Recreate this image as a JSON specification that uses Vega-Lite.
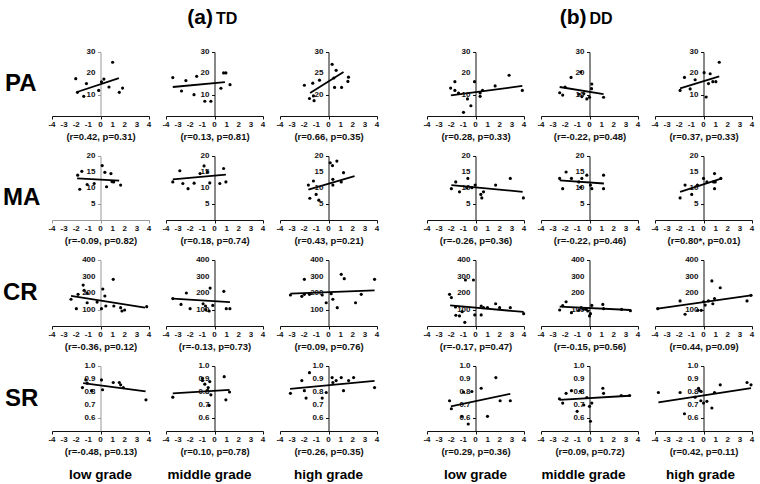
{
"$schema":"https://vega.github.io/schema/vega-lite/v6.json",
"padding":{"left":0,"top":0,"right":5,"bottom":5},
"background":"white",
"config":{"font":"Liberation Sans","view":{"stroke":null},
"text":{"fontSize":8,"fontWeight":"bold","color":"#111"},
"axis":{"grid":false,"labels":false,"domainColor":"#111","tickColor":"#111","tickSize":3,"titleFontSize":9.5,"titleFontWeight":"bold","titleColor":"#111","titlePadding":12}},
"datasets":{
"xt":[{"x":-4,"t":"-4"},{"x":-3,"t":"-3"},{"x":-2,"t":"-2"},{"x":-1,"t":"-1"},{"x":0,"t":"0"},{"x":1,"t":"1"},{"x":2,"t":"2"},{"x":3,"t":"3"},{"x":4,"t":"4"}],
"yt":[{"g":"PA","y":10,"t":"10"},{"g":"PA","y":20,"t":"20"},{"g":"PA","y":30,"t":"30"},
{"g":"PB","y":20,"t":"20"},{"g":"PB","y":25,"t":"25"},{"g":"PB","y":30,"t":"30"},
{"g":"MA","y":5,"t":"5"},{"g":"MA","y":10,"t":"10"},{"g":"MA","y":15,"t":"15"},{"g":"MA","y":20,"t":"20"},
{"g":"CR","y":100,"t":"100"},{"g":"CR","y":200,"t":"200"},{"g":"CR","y":300,"t":"300"},{"g":"CR","y":400,"t":"400"},
{"g":"SR","y":0.6,"t":"0.6"},{"g":"SR","y":0.7,"t":"0.7"},{"g":"SR","y":0.8,"t":"0.8"},{"g":"SR","y":0.9,"t":"0.9"},{"g":"SR","y":1.0,"t":"1.0"}],
"pts":[
{"p":"PA1","x":-2.04,"y":17.5},{"p":"PA1","x":-1.9,"y":11.1},{"p":"PA1","x":-1.38,"y":9.2},{"p":"PA1","x":-1.16,"y":15.2},{"p":"PA1","x":0.08,"y":16},{"p":"PA1","x":0.28,"y":17.3},{"p":"PA1","x":-0.15,"y":12},{"p":"PA1","x":1.0,"y":25.2},{"p":"PA1","x":0.7,"y":13.6},{"p":"PA1","x":1.55,"y":11.1},{"p":"PA1","x":1.82,"y":13.1},
{"p":"PA2","x":-3.44,"y":18},{"p":"PA2","x":-2.72,"y":11.7},{"p":"PA2","x":-2.36,"y":16.6},{"p":"PA2","x":-1.69,"y":10},{"p":"PA2","x":-1.47,"y":18.6},{"p":"PA2","x":-0.8,"y":6.9},{"p":"PA2","x":-0.3,"y":6.9},{"p":"PA2","x":0.75,"y":20.2},{"p":"PA2","x":0.94,"y":20.2},{"p":"PA2","x":0.53,"y":13},{"p":"PA2","x":1.28,"y":14.7},
{"p":"PA3","x":-1.99,"y":22.2},{"p":"PA3","x":-1.57,"y":19.1},{"p":"PA3","x":-1.24,"y":19.7},{"p":"PA3","x":-1.3,"y":22.7},{"p":"PA3","x":-1.19,"y":18.6},{"p":"PA3","x":-0.74,"y":23.4},{"p":"PA3","x":0.3,"y":27.1},{"p":"PA3","x":0.44,"y":23.9},{"p":"PA3","x":0.63,"y":25.7},{"p":"PA3","x":0.5,"y":21.7},{"p":"PA3","x":1.08,"y":21.7},{"p":"PA3","x":1.6,"y":23.1},{"p":"PA3","x":1.65,"y":24.1},
{"p":"PA4","x":-2.05,"y":13.1},{"p":"PA4","x":-1.7,"y":16.1},{"p":"PA4","x":-1.7,"y":12},{"p":"PA4","x":-1.4,"y":10.8},{"p":"PA4","x":-0.66,"y":8},{"p":"PA4","x":-0.38,"y":4.8},{"p":"PA4","x":-0.99,"y":1.7},{"p":"PA4","x":-0.08,"y":16.1},{"p":"PA4","x":0.38,"y":9.2},{"p":"PA4","x":0.38,"y":10.8},{"p":"PA4","x":0.58,"y":12},{"p":"PA4","x":1.62,"y":14.1},{"p":"PA4","x":2.77,"y":19.1},{"p":"PA4","x":3.86,"y":12},
{"p":"PA5","x":-2.46,"y":10.9},{"p":"PA5","x":-2.21,"y":9.8},{"p":"PA5","x":-2.01,"y":13.6},{"p":"PA5","x":-1.52,"y":18.1},{"p":"PA5","x":-0.72,"y":20.6},{"p":"PA5","x":-0.88,"y":10.2},{"p":"PA5","x":-0.63,"y":9.1},{"p":"PA5","x":-0.22,"y":8},{"p":"PA5","x":0,"y":8.8},{"p":"PA5","x":0.19,"y":15},{"p":"PA5","x":0.17,"y":12.8},{"p":"PA5","x":-0.47,"y":10.5},{"p":"PA5","x":1.16,"y":8.8},
{"p":"PA6","x":-1.93,"y":12},{"p":"PA6","x":-1.57,"y":18.1},{"p":"PA6","x":-1.1,"y":12.7},{"p":"PA6","x":-0.69,"y":17},{"p":"PA6","x":0.05,"y":20.3},{"p":"PA6","x":0.22,"y":8.9},{"p":"PA6","x":0.41,"y":15.2},{"p":"PA6","x":0.55,"y":19.8},{"p":"PA6","x":0.77,"y":16.1},{"p":"PA6","x":1.02,"y":16.1},{"p":"PA6","x":1.3,"y":25.2},
{"p":"MA1","x":-1.88,"y":14},{"p":"MA1","x":-1.54,"y":15.2},{"p":"MA1","x":-1.71,"y":9.6},{"p":"MA1","x":-1.1,"y":11.1},{"p":"MA1","x":-0.52,"y":11.4},{"p":"MA1","x":0.14,"y":17},{"p":"MA1","x":0.36,"y":14.9},{"p":"MA1","x":0.5,"y":10.4},{"p":"MA1","x":0.86,"y":14.5},{"p":"MA1","x":1.08,"y":11.9},{"p":"MA1","x":1.66,"y":10.9},{"p":"MA1","x":0.95,"y":12},
{"p":"MA2","x":-3.44,"y":11.9},{"p":"MA2","x":-2.86,"y":15.4},{"p":"MA2","x":-2.61,"y":11.4},{"p":"MA2","x":-2.18,"y":9.8},{"p":"MA2","x":-1.68,"y":11.5},{"p":"MA2","x":-1.19,"y":14.5},{"p":"MA2","x":-0.86,"y":16.9},{"p":"MA2","x":-0.58,"y":15},{"p":"MA2","x":-0.39,"y":11.6},{"p":"MA2","x":0.44,"y":11.4},{"p":"MA2","x":0.75,"y":16.1},{"p":"MA2","x":0.94,"y":11.9},
{"p":"MA3","x":-1.66,"y":10.9},{"p":"MA3","x":-1.54,"y":6.8},{"p":"MA3","x":-1.24,"y":12.2},{"p":"MA3","x":-1.02,"y":8},{"p":"MA3","x":-0.8,"y":6.2},{"p":"MA3","x":0.14,"y":17.9},{"p":"MA3","x":0.33,"y":17},{"p":"MA3","x":0.69,"y":18.4},{"p":"MA3","x":0.36,"y":12.7},{"p":"MA3","x":0.36,"y":10.9},{"p":"MA3","x":1.05,"y":11.9},{"p":"MA3","x":1.24,"y":14.8},
{"p":"MA4","x":-1.99,"y":9.8},{"p":"MA4","x":-1.63,"y":11.9},{"p":"MA4","x":-1.32,"y":8.8},{"p":"MA4","x":-0.72,"y":10.1},{"p":"MA4","x":-0.63,"y":13},{"p":"MA4","x":-0.3,"y":10.1},{"p":"MA4","x":-0.03,"y":10.9},{"p":"MA4","x":0.44,"y":8},{"p":"MA4","x":0.52,"y":6.9},{"p":"MA4","x":0.66,"y":8.8},{"p":"MA4","x":1.66,"y":10.9},{"p":"MA4","x":2.87,"y":13},{"p":"MA4","x":3.95,"y":6.9},
{"p":"MA5","x":-2.46,"y":13},{"p":"MA5","x":-2.21,"y":9.8},{"p":"MA5","x":-1.93,"y":15},{"p":"MA5","x":-1.49,"y":13},{"p":"MA5","x":-0.88,"y":11.9},{"p":"MA5","x":-0.63,"y":13},{"p":"MA5","x":-0.72,"y":10.2},{"p":"MA5","x":-0.22,"y":14},{"p":"MA5","x":0.08,"y":10.9},{"p":"MA5","x":0.19,"y":9.8},{"p":"MA5","x":1.16,"y":14},{"p":"MA5","x":1.16,"y":9.8},
{"p":"MA6","x":-1.93,"y":6.9},{"p":"MA6","x":-1.52,"y":10.9},{"p":"MA6","x":-0.97,"y":8},{"p":"MA6","x":-0.5,"y":10.9},{"p":"MA6","x":0,"y":13},{"p":"MA6","x":0.28,"y":11.9},{"p":"MA6","x":0.83,"y":11.9},{"p":"MA6","x":0.91,"y":14.5},{"p":"MA6","x":0.91,"y":9.8},{"p":"MA6","x":0.97,"y":11.9},{"p":"MA6","x":1.43,"y":13},
{"p":"CR1","x":-2.43,"y":162},{"p":"CR1","x":-1.99,"y":105},{"p":"CR1","x":-1.85,"y":192},{"p":"CR1","x":-1.43,"y":248},{"p":"CR1","x":-1.35,"y":216},{"p":"CR1","x":-1.1,"y":198},{"p":"CR1","x":-1.1,"y":141},{"p":"CR1","x":-0.28,"y":145},{"p":"CR1","x":0.08,"y":105},{"p":"CR1","x":0.19,"y":224},{"p":"CR1","x":0.36,"y":182},{"p":"CR1","x":0.44,"y":121},{"p":"CR1","x":1.05,"y":283},{"p":"CR1","x":1.1,"y":121},{"p":"CR1","x":1.66,"y":111},{"p":"CR1","x":1.77,"y":91},{"p":"CR1","x":1.99,"y":97},{"p":"CR1","x":3.81,"y":117},
{"p":"CR2","x":-3.44,"y":166},{"p":"CR2","x":-2.76,"y":131},{"p":"CR2","x":-2.32,"y":200},{"p":"CR2","x":-2.01,"y":105},{"p":"CR2","x":-0.94,"y":135},{"p":"CR2","x":-0.74,"y":121},{"p":"CR2","x":-0.44,"y":91},{"p":"CR2","x":-0.36,"y":230},{"p":"CR2","x":-0.14,"y":125},{"p":"CR2","x":0.77,"y":210},{"p":"CR2","x":0.97,"y":105},{"p":"CR2","x":1.27,"y":105},{"p":"CR2","x":-0.72,"y":99},
{"p":"CR3","x":-3.14,"y":188},{"p":"CR3","x":-2.2,"y":180},{"p":"CR3","x":-1.99,"y":283},{"p":"CR3","x":-1.99,"y":192},{"p":"CR3","x":-1.57,"y":192},{"p":"CR3","x":-0.52,"y":188},{"p":"CR3","x":-0.19,"y":141},{"p":"CR3","x":0.22,"y":196},{"p":"CR3","x":0.36,"y":162},{"p":"CR3","x":0.72,"y":111},{"p":"CR3","x":1.05,"y":313},{"p":"CR3","x":1.3,"y":287},{"p":"CR3","x":2.23,"y":141},{"p":"CR3","x":2.7,"y":192},{"p":"CR3","x":3.8,"y":283},
{"p":"CR4","x":-2.14,"y":192},{"p":"CR4","x":-1.99,"y":172},{"p":"CR4","x":-1.65,"y":115},{"p":"CR4","x":-1.62,"y":65},{"p":"CR4","x":-1.32,"y":61},{"p":"CR4","x":-1.1,"y":87},{"p":"CR4","x":-0.88,"y":22},{"p":"CR4","x":-0.83,"y":279},{"p":"CR4","x":-0.17,"y":279},{"p":"CR4","x":-0.06,"y":67},{"p":"CR4","x":0.47,"y":121},{"p":"CR4","x":0.47,"y":67},{"p":"CR4","x":0.66,"y":111},{"p":"CR4","x":0.99,"y":111},{"p":"CR4","x":1.66,"y":135},{"p":"CR4","x":1.99,"y":111},{"p":"CR4","x":2.87,"y":111},{"p":"CR4","x":3.97,"y":75},
{"p":"CR5","x":-2.46,"y":97},{"p":"CR5","x":-2.21,"y":123},{"p":"CR5","x":-1.93,"y":147},{"p":"CR5","x":-1.49,"y":81},{"p":"CR5","x":-0.88,"y":95},{"p":"CR5","x":-0.69,"y":111},{"p":"CR5","x":-0.5,"y":101},{"p":"CR5","x":-0.28,"y":101},{"p":"CR5","x":0,"y":61},{"p":"CR5","x":0.08,"y":75},{"p":"CR5","x":0.19,"y":125},{"p":"CR5","x":-0.14,"y":91},{"p":"CR5","x":1.1,"y":131},{"p":"CR5","x":1.16,"y":105},{"p":"CR5","x":2.65,"y":101},{"p":"CR5","x":3.37,"y":93},
{"p":"CR6","x":-3.78,"y":105},{"p":"CR6","x":-1.93,"y":152},{"p":"CR6","x":-1.52,"y":71},{"p":"CR6","x":-0.47,"y":95},{"p":"CR6","x":-0.19,"y":95},{"p":"CR6","x":0,"y":147},{"p":"CR6","x":0.14,"y":127},{"p":"CR6","x":0.41,"y":152},{"p":"CR6","x":0.69,"y":273},{"p":"CR6","x":0.77,"y":135},{"p":"CR6","x":0.91,"y":166},{"p":"CR6","x":1.38,"y":232},{"p":"CR6","x":3.59,"y":152},{"p":"CR6","x":3.92,"y":186},
{"p":"SR1","x":-1.49,"y":0.834},{"p":"SR1","x":-1.1,"y":0.868},{"p":"SR1","x":-1.21,"y":0.893},{"p":"SR1","x":-0.74,"y":0.81},{"p":"SR1","x":0.08,"y":0.893},{"p":"SR1","x":0.17,"y":0.817},{"p":"SR1","x":1.05,"y":0.873},{"p":"SR1","x":1.55,"y":0.873},{"p":"SR1","x":1.66,"y":0.855},{"p":"SR1","x":1.88,"y":0.834},{"p":"SR1","x":3.75,"y":0.74},
{"p":"SR2","x":-3.44,"y":0.76},{"p":"SR2","x":-0.99,"y":0.906},{"p":"SR2","x":-0.99,"y":0.888},{"p":"SR2","x":-0.8,"y":0.86},{"p":"SR2","x":-0.52,"y":0.834},{"p":"SR2","x":-0.39,"y":0.88},{"p":"SR2","x":-0.3,"y":0.778},{"p":"SR2","x":-0.44,"y":0.697},{"p":"SR2","x":0.8,"y":0.918},{"p":"SR2","x":0.94,"y":0.74},{"p":"SR2","x":1.24,"y":0.8},{"p":"SR2","x":-0.58,"y":0.81},
{"p":"SR3","x":-3.14,"y":0.79},{"p":"SR3","x":-2.2,"y":0.888},{"p":"SR3","x":-1.99,"y":0.81},{"p":"SR3","x":-1.85,"y":0.753},{"p":"SR3","x":-1.57,"y":0.949},{"p":"SR3","x":-0.52,"y":0.753},{"p":"SR3","x":-0.19,"y":0.796},{"p":"SR3","x":0.3,"y":0.911},{"p":"SR3","x":0.36,"y":0.873},{"p":"SR3","x":0.63,"y":0.888},{"p":"SR3","x":1.05,"y":0.911},{"p":"SR3","x":1.24,"y":0.81},{"p":"SR3","x":1.66,"y":0.888},{"p":"SR3","x":2.07,"y":0.911},{"p":"SR3","x":3.8,"y":0.834},
{"p":"SR4","x":-2.14,"y":0.733},{"p":"SR4","x":-1.99,"y":0.671},{"p":"SR4","x":-1.12,"y":0.613},{"p":"SR4","x":-0.6,"y":0.554},{"p":"SR4","x":-0.99,"y":0.8},{"p":"SR4","x":-0.3,"y":0.804},{"p":"SR4","x":0.47,"y":0.829},{"p":"SR4","x":0.99,"y":0.613},{"p":"SR4","x":1.68,"y":0.911},{"p":"SR4","x":2.03,"y":0.733},{"p":"SR4","x":2.87,"y":0.733},
{"p":"SR5","x":-2.48,"y":0.748},{"p":"SR5","x":-2.21,"y":0.715},{"p":"SR5","x":-1.93,"y":0.79},{"p":"SR5","x":-1.49,"y":0.81},{"p":"SR5","x":-1.02,"y":0.651},{"p":"SR5","x":-0.74,"y":0.806},{"p":"SR5","x":-0.47,"y":0.7},{"p":"SR5","x":-0.22,"y":0.758},{"p":"SR5","x":0,"y":0.69},{"p":"SR5","x":0.08,"y":0.575},{"p":"SR5","x":0.19,"y":0.715},{"p":"SR5","x":1.1,"y":0.829},{"p":"SR5","x":1.16,"y":0.79},{"p":"SR5","x":2.62,"y":0.773},{"p":"SR5","x":3.31,"y":0.773},
{"p":"SR6","x":-3.72,"y":0.796},{"p":"SR6","x":-1.93,"y":0.796},{"p":"SR6","x":-1.57,"y":0.633},{"p":"SR6","x":-0.69,"y":0.76},{"p":"SR6","x":-0.41,"y":0.829},{"p":"SR6","x":-0.33,"y":0.81},{"p":"SR6","x":-0.19,"y":0.804},{"p":"SR6","x":-0.22,"y":0.733},{"p":"SR6","x":0,"y":0.715},{"p":"SR6","x":0.28,"y":0.728},{"p":"SR6","x":0.69,"y":0.677},{"p":"SR6","x":0.91,"y":0.796},{"p":"SR6","x":1.38,"y":0.855},{"p":"SR6","x":3.59,"y":0.873},{"p":"SR6","x":3.92,"y":0.855}
],
"lns":[
{"p":"PA1","x":-1.93,"y":11.25},{"p":"PA1","x":1.52,"y":17.8},
{"p":"PA2","x":-3.44,"y":13.6},{"p":"PA2","x":0.86,"y":15.9},
{"p":"PA3","x":-1.52,"y":20.4},{"p":"PA3","x":1.24,"y":25.3},
{"p":"PA4","x":-2.03,"y":9.7},{"p":"PA4","x":3.86,"y":14.1},
{"p":"PA5","x":-2.46,"y":13.6},{"p":"PA5","x":1.16,"y":10.3},
{"p":"PA6","x":-1.93,"y":13},{"p":"PA6","x":1.3,"y":18.6},
{"p":"MA1","x":-1.93,"y":13},{"p":"MA1","x":1.54,"y":12.3},
{"p":"MA2","x":-3.44,"y":12.7},{"p":"MA2","x":0.94,"y":14.2},
{"p":"MA3","x":-1.66,"y":9.5},{"p":"MA3","x":2.15,"y":13.7},
{"p":"MA4","x":-1.99,"y":10.9},{"p":"MA4","x":3.89,"y":8.8},
{"p":"MA5","x":-2.46,"y":12.4},{"p":"MA5","x":1.19,"y":11.4},
{"p":"MA6","x":-1.93,"y":8.8},{"p":"MA6","x":1.52,"y":13},
{"p":"CR1","x":-2.43,"y":182},{"p":"CR1","x":3.67,"y":111},
{"p":"CR2","x":-3.44,"y":166},{"p":"CR2","x":1.27,"y":145},
{"p":"CR3","x":-3.14,"y":196},{"p":"CR3","x":3.8,"y":216},
{"p":"CR4","x":-2.09,"y":125},{"p":"CR4","x":3.97,"y":85},
{"p":"CR5","x":-2.46,"y":117},{"p":"CR5","x":3.37,"y":97},
{"p":"CR6","x":-3.78,"y":105},{"p":"CR6","x":3.92,"y":186},
{"p":"SR1","x":-1.43,"y":0.868},{"p":"SR1","x":3.72,"y":0.804},
{"p":"SR2","x":-3.44,"y":0.79},{"p":"SR2","x":1.24,"y":0.817},
{"p":"SR3","x":-3.17,"y":0.824},{"p":"SR3","x":3.8,"y":0.885},
{"p":"SR4","x":-2.03,"y":0.689},{"p":"SR4","x":2.87,"y":0.786},
{"p":"SR5","x":-2.48,"y":0.74},{"p":"SR5","x":3.31,"y":0.771},
{"p":"SR6","x":-3.72,"y":0.72},{"p":"SR6","x":3.92,"y":0.83}
],
"lab":[{"t":"PA"},{"t":"MA"},{"t":"CR"},{"t":"SR"},{"t":"(a)","u":"TD"},{"t":"(b)","u":"DD"}]
},
"columns":8,
"align":"each",
"bounds":"flush",
"spacing":{"row":40,"column":17},
"concat":[
{"width":35,"height":12,"data":{"values":[{}]},"mark":{"type":"text","text":""},"encoding":{}},
{"width":97,"height":12,"data":{"values":[{}]},"mark":{"type":"text","text":""},"encoding":{}},
{"width":97,"height":12,"data":{"name":"lab"},"transform":[{"filter":"datum.t=='(a)'"}],"layer":[
 {"mark":{"type":"text","fontSize":21,"fontWeight":"bold","align":"right","dx":-1.5,"dy":11.5,"color":"#000"},"encoding":{"text":{"field":"t"}}},
 {"mark":{"type":"text","fontSize":16,"fontWeight":"bold","align":"left","dx":1.5,"dy":12.5,"color":"#000"},"encoding":{"text":{"field":"u"}}}]},
{"width":97,"height":12,"data":{"values":[{}]},"mark":{"type":"text","text":""},"encoding":{}},
{"width":16,"height":12,"data":{"values":[{}]},"mark":{"type":"text","text":""},"encoding":{}},
{"width":97,"height":12,"data":{"values":[{}]},"mark":{"type":"text","text":""},"encoding":{}},
{"width":97,"height":12,"data":{"name":"lab"},"transform":[{"filter":"datum.t=='(b)'"}],"layer":[
 {"mark":{"type":"text","fontSize":21,"fontWeight":"bold","align":"right","dx":-3,"dy":11.5,"color":"#000"},"encoding":{"text":{"field":"t"}}},
 {"mark":{"type":"text","fontSize":16,"fontWeight":"bold","align":"left","dx":0,"dy":12.5,"color":"#000"},"encoding":{"text":{"field":"u"}}}]},
{"width":97,"height":12,"data":{"values":[{}]},"mark":{"type":"text","text":""},"encoding":{}},

{"width":35,"height":64,"data":{"name":"lab"},"transform":[{"filter":"datum.t=='PA'"}],"mark":{"type":"text","fontSize":24,"fontWeight":"bold","align":"left","dx":-12.5,"color":"#000"},"encoding":{"text":{"field":"t"}}},
{"width":97,"height":64,"layer":[
{"data":{"name":"pts"},"transform":[{"filter":"datum.p=='PA1'"}],"mark":{"type":"circle","size":10,"color":"#000","opacity":1},"encoding":{"x":{"field":"x","type":"quantitative","scale":{"domain":[-4,4],"nice":false},"axis":{"values":[-4,-3,-2,-1,0,1,2,3,4],"title":"(r=0.42, p=0.31)"}},"y":{"field":"y","type":"quantitative","scale":{"domain":[0,30],"nice":false},"axis":{"values":[10,20,30],"offset":-48.5,"title":null,"domainColor":"#999","tickColor":"#999"}}}},
{"data":{"name":"lns"},"transform":[{"filter":"datum.p=='PA1'"}],"mark":{"type":"line","color":"#000","strokeWidth":1.8},"encoding":{"x":{"field":"x","type":"quantitative"},"y":{"field":"y","type":"quantitative"}}},
{"data":{"name":"xt"},"mark":{"type":"text","baseline":"top","dy":5},"encoding":{"x":{"field":"x","type":"quantitative"},"y":{"datum":0},"text":{"field":"t"}}},
{"data":{"name":"yt"},"transform":[{"filter":"datum.g=='PA'"}],"mark":{"type":"text","align":"right","dx":-5},"encoding":{"x":{"datum":0},"y":{"field":"y","type":"quantitative"},"text":{"field":"t"}}}]},
{"width":97,"height":64,"layer":[
{"data":{"name":"pts"},"transform":[{"filter":"datum.p=='PA2'"}],"mark":{"type":"circle","size":10,"color":"#000","opacity":1},"encoding":{"x":{"field":"x","type":"quantitative","scale":{"domain":[-4,4],"nice":false},"axis":{"values":[-4,-3,-2,-1,0,1,2,3,4],"title":"(r=0.13, p=0.81)"}},"y":{"field":"y","type":"quantitative","scale":{"domain":[0,30],"nice":false},"axis":{"values":[10,20,30],"offset":-48.5,"title":null}}}},
{"data":{"name":"lns"},"transform":[{"filter":"datum.p=='PA2'"}],"mark":{"type":"line","color":"#000","strokeWidth":1.8},"encoding":{"x":{"field":"x","type":"quantitative"},"y":{"field":"y","type":"quantitative"}}},
{"data":{"name":"xt"},"mark":{"type":"text","baseline":"top","dy":5},"encoding":{"x":{"field":"x","type":"quantitative"},"y":{"datum":0},"text":{"field":"t"}}},
{"data":{"name":"yt"},"transform":[{"filter":"datum.g=='PA'"}],"mark":{"type":"text","align":"right","dx":-5},"encoding":{"x":{"datum":0},"y":{"field":"y","type":"quantitative"},"text":{"field":"t"}}}]},
{"width":97,"height":64,"layer":[
{"data":{"name":"pts"},"transform":[{"filter":"datum.p=='PA3'"}],"mark":{"type":"circle","size":10,"color":"#000","opacity":1},"encoding":{"x":{"field":"x","type":"quantitative","scale":{"domain":[-4,4],"nice":false},"axis":{"values":[-4,-3,-2,-1,0,1,2,3,4],"title":"(r=0.66, p=0.35)"}},"y":{"field":"y","type":"quantitative","scale":{"domain":[15,30],"nice":false},"axis":{"values":[20,25,30],"offset":-48.5,"title":null}}}},
{"data":{"name":"lns"},"transform":[{"filter":"datum.p=='PA3'"}],"mark":{"type":"line","color":"#000","strokeWidth":1.8},"encoding":{"x":{"field":"x","type":"quantitative"},"y":{"field":"y","type":"quantitative"}}},
{"data":{"name":"xt"},"mark":{"type":"text","baseline":"top","dy":5},"encoding":{"x":{"field":"x","type":"quantitative"},"y":{"datum":15},"text":{"field":"t"}}},
{"data":{"name":"yt"},"transform":[{"filter":"datum.g=='PB'"}],"mark":{"type":"text","align":"right","dx":-5},"encoding":{"x":{"datum":0},"y":{"field":"y","type":"quantitative"},"text":{"field":"t"}}}]},
{"width":16,"height":64,"data":{"values":[{}]},"mark":{"type":"text","text":""},"encoding":{}},
{"width":97,"height":64,"layer":[
{"data":{"name":"pts"},"transform":[{"filter":"datum.p=='PA4'"}],"mark":{"type":"circle","size":10,"color":"#000","opacity":1},"encoding":{"x":{"field":"x","type":"quantitative","scale":{"domain":[-4,4],"nice":false},"axis":{"values":[-4,-3,-2,-1,0,1,2,3,4],"title":"(r=0.28, p=0.33)"}},"y":{"field":"y","type":"quantitative","scale":{"domain":[0,30],"nice":false},"axis":{"values":[10,20,30],"offset":-48.5,"title":null}}}},
{"data":{"name":"lns"},"transform":[{"filter":"datum.p=='PA4'"}],"mark":{"type":"line","color":"#000","strokeWidth":1.8},"encoding":{"x":{"field":"x","type":"quantitative"},"y":{"field":"y","type":"quantitative"}}},
{"data":{"name":"xt"},"mark":{"type":"text","baseline":"top","dy":5},"encoding":{"x":{"field":"x","type":"quantitative"},"y":{"datum":0},"text":{"field":"t"}}},
{"data":{"name":"yt"},"transform":[{"filter":"datum.g=='PA'"}],"mark":{"type":"text","align":"right","dx":-5},"encoding":{"x":{"datum":0},"y":{"field":"y","type":"quantitative"},"text":{"field":"t"}}}]},
{"width":97,"height":64,"layer":[
{"data":{"name":"pts"},"transform":[{"filter":"datum.p=='PA5'"}],"mark":{"type":"circle","size":10,"color":"#000","opacity":1},"encoding":{"x":{"field":"x","type":"quantitative","scale":{"domain":[-4,4],"nice":false},"axis":{"values":[-4,-3,-2,-1,0,1,2,3,4],"title":"(r=-0.22, p=0.48)"}},"y":{"field":"y","type":"quantitative","scale":{"domain":[0,30],"nice":false},"axis":{"values":[10,20,30],"offset":-48.5,"title":null}}}},
{"data":{"name":"lns"},"transform":[{"filter":"datum.p=='PA5'"}],"mark":{"type":"line","color":"#000","strokeWidth":1.8},"encoding":{"x":{"field":"x","type":"quantitative"},"y":{"field":"y","type":"quantitative"}}},
{"data":{"name":"xt"},"mark":{"type":"text","baseline":"top","dy":5},"encoding":{"x":{"field":"x","type":"quantitative"},"y":{"datum":0},"text":{"field":"t"}}},
{"data":{"name":"yt"},"transform":[{"filter":"datum.g=='PA'"}],"mark":{"type":"text","align":"right","dx":-5},"encoding":{"x":{"datum":0},"y":{"field":"y","type":"quantitative"},"text":{"field":"t"}}}]},
{"width":97,"height":64,"layer":[
{"data":{"name":"pts"},"transform":[{"filter":"datum.p=='PA6'"}],"mark":{"type":"circle","size":10,"color":"#000","opacity":1},"encoding":{"x":{"field":"x","type":"quantitative","scale":{"domain":[-4,4],"nice":false},"axis":{"values":[-4,-3,-2,-1,0,1,2,3,4],"title":"(r=0.37, p=0.33)"}},"y":{"field":"y","type":"quantitative","scale":{"domain":[0,30],"nice":false},"axis":{"values":[10,20,30],"offset":-48.5,"title":null}}}},
{"data":{"name":"lns"},"transform":[{"filter":"datum.p=='PA6'"}],"mark":{"type":"line","color":"#000","strokeWidth":1.8},"encoding":{"x":{"field":"x","type":"quantitative"},"y":{"field":"y","type":"quantitative"}}},
{"data":{"name":"xt"},"mark":{"type":"text","baseline":"top","dy":5},"encoding":{"x":{"field":"x","type":"quantitative"},"y":{"datum":0},"text":{"field":"t"}}},
{"data":{"name":"yt"},"transform":[{"filter":"datum.g=='PA'"}],"mark":{"type":"text","align":"right","dx":-5},"encoding":{"x":{"datum":0},"y":{"field":"y","type":"quantitative"},"text":{"field":"t"}}}]},

{"width":35,"height":64,"data":{"name":"lab"},"transform":[{"filter":"datum.t=='MA'"}],"mark":{"type":"text","fontSize":24,"fontWeight":"bold","align":"left","dx":-14.5,"dy":10,"color":"#000"},"encoding":{"text":{"field":"t"}}},
{"width":97,"height":64,"layer":[
{"data":{"name":"pts"},"transform":[{"filter":"datum.p=='MA1'"}],"mark":{"type":"circle","size":10,"color":"#000","opacity":1},"encoding":{"x":{"field":"x","type":"quantitative","scale":{"domain":[-4,4],"nice":false},"axis":{"values":[-4,-3,-2,-1,0,1,2,3,4],"title":"(r=-0.09, p=0.82)","domainColor":"#999","tickColor":"#999"}},"y":{"field":"y","type":"quantitative","scale":{"domain":[0,20],"nice":false},"axis":{"values":[5,10,15,20],"offset":-48.5,"title":null,"domainColor":"#999","tickColor":"#999"}}}},
{"data":{"name":"lns"},"transform":[{"filter":"datum.p=='MA1'"}],"mark":{"type":"line","color":"#000","strokeWidth":1.8},"encoding":{"x":{"field":"x","type":"quantitative"},"y":{"field":"y","type":"quantitative"}}},
{"data":{"name":"xt"},"mark":{"type":"text","baseline":"top","dy":5},"encoding":{"x":{"field":"x","type":"quantitative"},"y":{"datum":0},"text":{"field":"t"}}},
{"data":{"name":"yt"},"transform":[{"filter":"datum.g=='MA'"}],"mark":{"type":"text","align":"right","dx":-5},"encoding":{"x":{"datum":0},"y":{"field":"y","type":"quantitative"},"text":{"field":"t"}}}]},
{"width":97,"height":64,"layer":[
{"data":{"name":"pts"},"transform":[{"filter":"datum.p=='MA2'"}],"mark":{"type":"circle","size":10,"color":"#000","opacity":1},"encoding":{"x":{"field":"x","type":"quantitative","scale":{"domain":[-4,4],"nice":false},"axis":{"values":[-4,-3,-2,-1,0,1,2,3,4],"title":"(r=0.18, p=0.74)"}},"y":{"field":"y","type":"quantitative","scale":{"domain":[0,20],"nice":false},"axis":{"values":[5,10,15,20],"offset":-48.5,"title":null}}}},
{"data":{"name":"lns"},"transform":[{"filter":"datum.p=='MA2'"}],"mark":{"type":"line","color":"#000","strokeWidth":1.8},"encoding":{"x":{"field":"x","type":"quantitative"},"y":{"field":"y","type":"quantitative"}}},
{"data":{"name":"xt"},"mark":{"type":"text","baseline":"top","dy":5},"encoding":{"x":{"field":"x","type":"quantitative"},"y":{"datum":0},"text":{"field":"t"}}},
{"data":{"name":"yt"},"transform":[{"filter":"datum.g=='MA'"}],"mark":{"type":"text","align":"right","dx":-5},"encoding":{"x":{"datum":0},"y":{"field":"y","type":"quantitative"},"text":{"field":"t"}}}]},
{"width":97,"height":64,"layer":[
{"data":{"name":"pts"},"transform":[{"filter":"datum.p=='MA3'"}],"mark":{"type":"circle","size":10,"color":"#000","opacity":1},"encoding":{"x":{"field":"x","type":"quantitative","scale":{"domain":[-4,4],"nice":false},"axis":{"values":[-4,-3,-2,-1,0,1,2,3,4],"title":"(r=0.43, p=0.21)"}},"y":{"field":"y","type":"quantitative","scale":{"domain":[0,20],"nice":false},"axis":{"values":[5,10,15,20],"offset":-48.5,"title":null}}}},
{"data":{"name":"lns"},"transform":[{"filter":"datum.p=='MA3'"}],"mark":{"type":"line","color":"#000","strokeWidth":1.8},"encoding":{"x":{"field":"x","type":"quantitative"},"y":{"field":"y","type":"quantitative"}}},
{"data":{"name":"xt"},"mark":{"type":"text","baseline":"top","dy":5},"encoding":{"x":{"field":"x","type":"quantitative"},"y":{"datum":0},"text":{"field":"t"}}},
{"data":{"name":"yt"},"transform":[{"filter":"datum.g=='MA'"}],"mark":{"type":"text","align":"right","dx":-5},"encoding":{"x":{"datum":0},"y":{"field":"y","type":"quantitative"},"text":{"field":"t"}}}]},
{"width":16,"height":64,"data":{"values":[{}]},"mark":{"type":"text","text":""},"encoding":{}},
{"width":97,"height":64,"layer":[
{"data":{"name":"pts"},"transform":[{"filter":"datum.p=='MA4'"}],"mark":{"type":"circle","size":10,"color":"#000","opacity":1},"encoding":{"x":{"field":"x","type":"quantitative","scale":{"domain":[-4,4],"nice":false},"axis":{"values":[-4,-3,-2,-1,0,1,2,3,4],"title":"(r=-0.26, p=0.36)"}},"y":{"field":"y","type":"quantitative","scale":{"domain":[0,20],"nice":false},"axis":{"values":[5,10,15,20],"offset":-48.5,"title":null}}}},
{"data":{"name":"lns"},"transform":[{"filter":"datum.p=='MA4'"}],"mark":{"type":"line","color":"#000","strokeWidth":1.8},"encoding":{"x":{"field":"x","type":"quantitative"},"y":{"field":"y","type":"quantitative"}}},
{"data":{"name":"xt"},"mark":{"type":"text","baseline":"top","dy":5},"encoding":{"x":{"field":"x","type":"quantitative"},"y":{"datum":0},"text":{"field":"t"}}},
{"data":{"name":"yt"},"transform":[{"filter":"datum.g=='MA'"}],"mark":{"type":"text","align":"right","dx":-5},"encoding":{"x":{"datum":0},"y":{"field":"y","type":"quantitative"},"text":{"field":"t"}}}]},
{"width":97,"height":64,"layer":[
{"data":{"name":"pts"},"transform":[{"filter":"datum.p=='MA5'"}],"mark":{"type":"circle","size":10,"color":"#000","opacity":1},"encoding":{"x":{"field":"x","type":"quantitative","scale":{"domain":[-4,4],"nice":false},"axis":{"values":[-4,-3,-2,-1,0,1,2,3,4],"title":"(r=-0.22, p=0.46)"}},"y":{"field":"y","type":"quantitative","scale":{"domain":[0,20],"nice":false},"axis":{"values":[5,10,15,20],"offset":-48.5,"title":null}}}},
{"data":{"name":"lns"},"transform":[{"filter":"datum.p=='MA5'"}],"mark":{"type":"line","color":"#000","strokeWidth":1.8},"encoding":{"x":{"field":"x","type":"quantitative"},"y":{"field":"y","type":"quantitative"}}},
{"data":{"name":"xt"},"mark":{"type":"text","baseline":"top","dy":5},"encoding":{"x":{"field":"x","type":"quantitative"},"y":{"datum":0},"text":{"field":"t"}}},
{"data":{"name":"yt"},"transform":[{"filter":"datum.g=='MA'"}],"mark":{"type":"text","align":"right","dx":-5},"encoding":{"x":{"datum":0},"y":{"field":"y","type":"quantitative"},"text":{"field":"t"}}}]},
{"width":97,"height":64,"layer":[
{"data":{"name":"pts"},"transform":[{"filter":"datum.p=='MA6'"}],"mark":{"type":"circle","size":10,"color":"#000","opacity":1},"encoding":{"x":{"field":"x","type":"quantitative","scale":{"domain":[-4,4],"nice":false},"axis":{"values":[-4,-3,-2,-1,0,1,2,3,4],"title":"(r=0.80*, p=0.01)"}},"y":{"field":"y","type":"quantitative","scale":{"domain":[0,20],"nice":false},"axis":{"values":[5,10,15,20],"offset":-48.5,"title":null}}}},
{"data":{"name":"lns"},"transform":[{"filter":"datum.p=='MA6'"}],"mark":{"type":"line","color":"#000","strokeWidth":1.8},"encoding":{"x":{"field":"x","type":"quantitative"},"y":{"field":"y","type":"quantitative"}}},
{"data":{"name":"xt"},"mark":{"type":"text","baseline":"top","dy":5},"encoding":{"x":{"field":"x","type":"quantitative"},"y":{"datum":0},"text":{"field":"t"}}},
{"data":{"name":"yt"},"transform":[{"filter":"datum.g=='MA'"}],"mark":{"type":"text","align":"right","dx":-5},"encoding":{"x":{"datum":0},"y":{"field":"y","type":"quantitative"},"text":{"field":"t"}}}]},

{"width":35,"height":66,"data":{"name":"lab"},"transform":[{"filter":"datum.t=='CR'"}],"mark":{"type":"text","fontSize":24,"fontWeight":"bold","align":"left","dx":-14.5,"color":"#000"},"encoding":{"text":{"field":"t"}}},
{"width":97,"height":66,"layer":[
{"data":{"name":"pts"},"transform":[{"filter":"datum.p=='CR1'"}],"mark":{"type":"circle","size":10,"color":"#000","opacity":1},"encoding":{"x":{"field":"x","type":"quantitative","scale":{"domain":[-4,4],"nice":false},"axis":{"values":[-4,-3,-2,-1,0,1,2,3,4],"title":"(r=-0.36, p=0.12)"}},"y":{"field":"y","type":"quantitative","scale":{"domain":[0,400],"nice":false},"axis":{"values":[100,200,300,400],"offset":-48.5,"title":null,"domainColor":"#999","tickColor":"#999"}}}},
{"data":{"name":"lns"},"transform":[{"filter":"datum.p=='CR1'"}],"mark":{"type":"line","color":"#000","strokeWidth":1.8},"encoding":{"x":{"field":"x","type":"quantitative"},"y":{"field":"y","type":"quantitative"}}},
{"data":{"name":"xt"},"mark":{"type":"text","baseline":"top","dy":5},"encoding":{"x":{"field":"x","type":"quantitative"},"y":{"datum":0},"text":{"field":"t"}}},
{"data":{"name":"yt"},"transform":[{"filter":"datum.g=='CR'"}],"mark":{"type":"text","align":"right","dx":-5},"encoding":{"x":{"datum":0},"y":{"field":"y","type":"quantitative"},"text":{"field":"t"}}}]},
{"width":97,"height":66,"layer":[
{"data":{"name":"pts"},"transform":[{"filter":"datum.p=='CR2'"}],"mark":{"type":"circle","size":10,"color":"#000","opacity":1},"encoding":{"x":{"field":"x","type":"quantitative","scale":{"domain":[-4,4],"nice":false},"axis":{"values":[-4,-3,-2,-1,0,1,2,3,4],"title":"(r=-0.13, p=0.73)"}},"y":{"field":"y","type":"quantitative","scale":{"domain":[0,400],"nice":false},"axis":{"values":[100,200,300,400],"offset":-48.5,"title":null}}}},
{"data":{"name":"lns"},"transform":[{"filter":"datum.p=='CR2'"}],"mark":{"type":"line","color":"#000","strokeWidth":1.8},"encoding":{"x":{"field":"x","type":"quantitative"},"y":{"field":"y","type":"quantitative"}}},
{"data":{"name":"xt"},"mark":{"type":"text","baseline":"top","dy":5},"encoding":{"x":{"field":"x","type":"quantitative"},"y":{"datum":0},"text":{"field":"t"}}},
{"data":{"name":"yt"},"transform":[{"filter":"datum.g=='CR'"}],"mark":{"type":"text","align":"right","dx":-5},"encoding":{"x":{"datum":0},"y":{"field":"y","type":"quantitative"},"text":{"field":"t"}}}]},
{"width":97,"height":66,"layer":[
{"data":{"name":"pts"},"transform":[{"filter":"datum.p=='CR3'"}],"mark":{"type":"circle","size":10,"color":"#000","opacity":1},"encoding":{"x":{"field":"x","type":"quantitative","scale":{"domain":[-4,4],"nice":false},"axis":{"values":[-4,-3,-2,-1,0,1,2,3,4],"title":"(r=0.09, p=0.76)"}},"y":{"field":"y","type":"quantitative","scale":{"domain":[0,400],"nice":false},"axis":{"values":[100,200,300,400],"offset":-48.5,"title":null}}}},
{"data":{"name":"lns"},"transform":[{"filter":"datum.p=='CR3'"}],"mark":{"type":"line","color":"#000","strokeWidth":1.8},"encoding":{"x":{"field":"x","type":"quantitative"},"y":{"field":"y","type":"quantitative"}}},
{"data":{"name":"xt"},"mark":{"type":"text","baseline":"top","dy":5},"encoding":{"x":{"field":"x","type":"quantitative"},"y":{"datum":0},"text":{"field":"t"}}},
{"data":{"name":"yt"},"transform":[{"filter":"datum.g=='CR'"}],"mark":{"type":"text","align":"right","dx":-5},"encoding":{"x":{"datum":0},"y":{"field":"y","type":"quantitative"},"text":{"field":"t"}}}]},
{"width":16,"height":66,"data":{"values":[{}]},"mark":{"type":"text","text":""},"encoding":{}},
{"width":97,"height":66,"layer":[
{"data":{"name":"pts"},"transform":[{"filter":"datum.p=='CR4'"}],"mark":{"type":"circle","size":10,"color":"#000","opacity":1},"encoding":{"x":{"field":"x","type":"quantitative","scale":{"domain":[-4,4],"nice":false},"axis":{"values":[-4,-3,-2,-1,0,1,2,3,4],"title":"(r=-0.17, p=0.47)"}},"y":{"field":"y","type":"quantitative","scale":{"domain":[0,400],"nice":false},"axis":{"values":[100,200,300,400],"offset":-48.5,"title":null}}}},
{"data":{"name":"lns"},"transform":[{"filter":"datum.p=='CR4'"}],"mark":{"type":"line","color":"#000","strokeWidth":1.8},"encoding":{"x":{"field":"x","type":"quantitative"},"y":{"field":"y","type":"quantitative"}}},
{"data":{"name":"xt"},"mark":{"type":"text","baseline":"top","dy":5},"encoding":{"x":{"field":"x","type":"quantitative"},"y":{"datum":0},"text":{"field":"t"}}},
{"data":{"name":"yt"},"transform":[{"filter":"datum.g=='CR'"}],"mark":{"type":"text","align":"right","dx":-5},"encoding":{"x":{"datum":0},"y":{"field":"y","type":"quantitative"},"text":{"field":"t"}}}]},
{"width":97,"height":66,"layer":[
{"data":{"name":"pts"},"transform":[{"filter":"datum.p=='CR5'"}],"mark":{"type":"circle","size":10,"color":"#000","opacity":1},"encoding":{"x":{"field":"x","type":"quantitative","scale":{"domain":[-4,4],"nice":false},"axis":{"values":[-4,-3,-2,-1,0,1,2,3,4],"title":"(r=-0.15, p=0.56)"}},"y":{"field":"y","type":"quantitative","scale":{"domain":[0,400],"nice":false},"axis":{"values":[100,200,300,400],"offset":-48.5,"title":null}}}},
{"data":{"name":"lns"},"transform":[{"filter":"datum.p=='CR5'"}],"mark":{"type":"line","color":"#000","strokeWidth":1.8},"encoding":{"x":{"field":"x","type":"quantitative"},"y":{"field":"y","type":"quantitative"}}},
{"data":{"name":"xt"},"mark":{"type":"text","baseline":"top","dy":5},"encoding":{"x":{"field":"x","type":"quantitative"},"y":{"datum":0},"text":{"field":"t"}}},
{"data":{"name":"yt"},"transform":[{"filter":"datum.g=='CR'"}],"mark":{"type":"text","align":"right","dx":-5},"encoding":{"x":{"datum":0},"y":{"field":"y","type":"quantitative"},"text":{"field":"t"}}}]},
{"width":97,"height":66,"layer":[
{"data":{"name":"pts"},"transform":[{"filter":"datum.p=='CR6'"}],"mark":{"type":"circle","size":10,"color":"#000","opacity":1},"encoding":{"x":{"field":"x","type":"quantitative","scale":{"domain":[-4,4],"nice":false},"axis":{"values":[-4,-3,-2,-1,0,1,2,3,4],"title":"(r=0.44, p=0.09)"}},"y":{"field":"y","type":"quantitative","scale":{"domain":[0,400],"nice":false},"axis":{"values":[100,200,300,400],"offset":-48.5,"title":null}}}},
{"data":{"name":"lns"},"transform":[{"filter":"datum.p=='CR6'"}],"mark":{"type":"line","color":"#000","strokeWidth":1.8},"encoding":{"x":{"field":"x","type":"quantitative"},"y":{"field":"y","type":"quantitative"}}},
{"data":{"name":"xt"},"mark":{"type":"text","baseline":"top","dy":5},"encoding":{"x":{"field":"x","type":"quantitative"},"y":{"datum":0},"text":{"field":"t"}}},
{"data":{"name":"yt"},"transform":[{"filter":"datum.g=='CR'"}],"mark":{"type":"text","align":"right","dx":-5},"encoding":{"x":{"datum":0},"y":{"field":"y","type":"quantitative"},"text":{"field":"t"}}}]},

{"width":35,"height":65,"data":{"name":"lab"},"transform":[{"filter":"datum.t=='SR'"}],"mark":{"type":"text","fontSize":24,"fontWeight":"bold","align":"left","dx":-12.5,"color":"#000"},"encoding":{"text":{"field":"t"}}},
{"width":97,"height":65,"title":{"text":"low grade","orient":"bottom","fontSize":13.5,"fontWeight":"bold","color":"#000","offset":12},"layer":[
{"data":{"name":"pts"},"transform":[{"filter":"datum.p=='SR1'"}],"mark":{"type":"circle","size":10,"color":"#000","opacity":1},"encoding":{"x":{"field":"x","type":"quantitative","scale":{"domain":[-4,4],"nice":false},"axis":{"values":[-4,-3,-2,-1,0,1,2,3,4],"title":"(r=-0.48, p=0.13)"}},"y":{"field":"y","type":"quantitative","scale":{"domain":[0.5,1.0],"nice":false},"axis":{"values":[0.6,0.7,0.8,0.9,1.0],"offset":-48.5,"title":null,"domainColor":"#999","tickColor":"#999"}}}},
{"data":{"name":"lns"},"transform":[{"filter":"datum.p=='SR1'"}],"mark":{"type":"line","color":"#000","strokeWidth":1.8},"encoding":{"x":{"field":"x","type":"quantitative"},"y":{"field":"y","type":"quantitative"}}},
{"data":{"name":"xt"},"mark":{"type":"text","baseline":"top","dy":5},"encoding":{"x":{"field":"x","type":"quantitative"},"y":{"datum":0.5},"text":{"field":"t"}}},
{"data":{"name":"yt"},"transform":[{"filter":"datum.g=='SR'"}],"mark":{"type":"text","align":"right","dx":-5},"encoding":{"x":{"datum":0},"y":{"field":"y","type":"quantitative"},"text":{"field":"t"}}}]},
{"width":97,"height":65,"title":{"text":"middle grade","orient":"bottom","fontSize":13.5,"fontWeight":"bold","color":"#000","offset":12,"dx":-5},"layer":[
{"data":{"name":"pts"},"transform":[{"filter":"datum.p=='SR2'"}],"mark":{"type":"circle","size":10,"color":"#000","opacity":1},"encoding":{"x":{"field":"x","type":"quantitative","scale":{"domain":[-4,4],"nice":false},"axis":{"values":[-4,-3,-2,-1,0,1,2,3,4],"title":"(r=0.10, p=0.78)"}},"y":{"field":"y","type":"quantitative","scale":{"domain":[0.5,1.0],"nice":false},"axis":{"values":[0.6,0.7,0.8,0.9,1.0],"offset":-48.5,"title":null}}}},
{"data":{"name":"lns"},"transform":[{"filter":"datum.p=='SR2'"}],"mark":{"type":"line","color":"#000","strokeWidth":1.8},"encoding":{"x":{"field":"x","type":"quantitative"},"y":{"field":"y","type":"quantitative"}}},
{"data":{"name":"xt"},"mark":{"type":"text","baseline":"top","dy":5},"encoding":{"x":{"field":"x","type":"quantitative"},"y":{"datum":0.5},"text":{"field":"t"}}},
{"data":{"name":"yt"},"transform":[{"filter":"datum.g=='SR'"}],"mark":{"type":"text","align":"right","dx":-5},"encoding":{"x":{"datum":0},"y":{"field":"y","type":"quantitative"},"text":{"field":"t"}}}]},
{"width":97,"height":65,"title":{"text":"high grade","orient":"bottom","fontSize":13.5,"fontWeight":"bold","color":"#000","offset":12},"layer":[
{"data":{"name":"pts"},"transform":[{"filter":"datum.p=='SR3'"}],"mark":{"type":"circle","size":10,"color":"#000","opacity":1},"encoding":{"x":{"field":"x","type":"quantitative","scale":{"domain":[-4,4],"nice":false},"axis":{"values":[-4,-3,-2,-1,0,1,2,3,4],"title":"(r=0.26, p=0.35)"}},"y":{"field":"y","type":"quantitative","scale":{"domain":[0.5,1.0],"nice":false},"axis":{"values":[0.6,0.7,0.8,0.9,1.0],"offset":-48.5,"title":null}}}},
{"data":{"name":"lns"},"transform":[{"filter":"datum.p=='SR3'"}],"mark":{"type":"line","color":"#000","strokeWidth":1.8},"encoding":{"x":{"field":"x","type":"quantitative"},"y":{"field":"y","type":"quantitative"}}},
{"data":{"name":"xt"},"mark":{"type":"text","baseline":"top","dy":5},"encoding":{"x":{"field":"x","type":"quantitative"},"y":{"datum":0.5},"text":{"field":"t"}}},
{"data":{"name":"yt"},"transform":[{"filter":"datum.g=='SR'"}],"mark":{"type":"text","align":"right","dx":-5},"encoding":{"x":{"datum":0},"y":{"field":"y","type":"quantitative"},"text":{"field":"t"}}}]},
{"width":16,"height":65,"data":{"values":[{}]},"mark":{"type":"text","text":""},"encoding":{}},
{"width":97,"height":65,"title":{"text":"low grade","orient":"bottom","fontSize":13.5,"fontWeight":"bold","color":"#000","offset":12},"layer":[
{"data":{"name":"pts"},"transform":[{"filter":"datum.p=='SR4'"}],"mark":{"type":"circle","size":10,"color":"#000","opacity":1},"encoding":{"x":{"field":"x","type":"quantitative","scale":{"domain":[-4,4],"nice":false},"axis":{"values":[-4,-3,-2,-1,0,1,2,3,4],"title":"(r=0.29, p=0.36)"}},"y":{"field":"y","type":"quantitative","scale":{"domain":[0.5,1.0],"nice":false},"axis":{"values":[0.6,0.7,0.8,0.9,1.0],"offset":-48.5,"title":null}}}},
{"data":{"name":"lns"},"transform":[{"filter":"datum.p=='SR4'"}],"mark":{"type":"line","color":"#000","strokeWidth":1.8},"encoding":{"x":{"field":"x","type":"quantitative"},"y":{"field":"y","type":"quantitative"}}},
{"data":{"name":"xt"},"mark":{"type":"text","baseline":"top","dy":5},"encoding":{"x":{"field":"x","type":"quantitative"},"y":{"datum":0.5},"text":{"field":"t"}}},
{"data":{"name":"yt"},"transform":[{"filter":"datum.g=='SR'"}],"mark":{"type":"text","align":"right","dx":-5},"encoding":{"x":{"datum":0},"y":{"field":"y","type":"quantitative"},"text":{"field":"t"}}}]},
{"width":97,"height":65,"title":{"text":"middle grade","orient":"bottom","fontSize":13.5,"fontWeight":"bold","color":"#000","offset":12,"dx":-6},"layer":[
{"data":{"name":"pts"},"transform":[{"filter":"datum.p=='SR5'"}],"mark":{"type":"circle","size":10,"color":"#000","opacity":1},"encoding":{"x":{"field":"x","type":"quantitative","scale":{"domain":[-4,4],"nice":false},"axis":{"values":[-4,-3,-2,-1,0,1,2,3,4],"title":"(r=0.09, p=0.72)"}},"y":{"field":"y","type":"quantitative","scale":{"domain":[0.5,1.0],"nice":false},"axis":{"values":[0.6,0.7,0.8,0.9,1.0],"offset":-48.5,"title":null}}}},
{"data":{"name":"lns"},"transform":[{"filter":"datum.p=='SR5'"}],"mark":{"type":"line","color":"#000","strokeWidth":1.8},"encoding":{"x":{"field":"x","type":"quantitative"},"y":{"field":"y","type":"quantitative"}}},
{"data":{"name":"xt"},"mark":{"type":"text","baseline":"top","dy":5},"encoding":{"x":{"field":"x","type":"quantitative"},"y":{"datum":0.5},"text":{"field":"t"}}},
{"data":{"name":"yt"},"transform":[{"filter":"datum.g=='SR'"}],"mark":{"type":"text","align":"right","dx":-5},"encoding":{"x":{"datum":0},"y":{"field":"y","type":"quantitative"},"text":{"field":"t"}}}]},
{"width":97,"height":65,"title":{"text":"high grade","orient":"bottom","fontSize":13.5,"fontWeight":"bold","color":"#000","offset":12,"dx":-3},"layer":[
{"data":{"name":"pts"},"transform":[{"filter":"datum.p=='SR6'"}],"mark":{"type":"circle","size":10,"color":"#000","opacity":1},"encoding":{"x":{"field":"x","type":"quantitative","scale":{"domain":[-4,4],"nice":false},"axis":{"values":[-4,-3,-2,-1,0,1,2,3,4],"title":"(r=0.42, p=0.11)"}},"y":{"field":"y","type":"quantitative","scale":{"domain":[0.5,1.0],"nice":false},"axis":{"values":[0.6,0.7,0.8,0.9,1.0],"offset":-48.5,"title":null}}}},
{"data":{"name":"lns"},"transform":[{"filter":"datum.p=='SR6'"}],"mark":{"type":"line","color":"#000","strokeWidth":1.8},"encoding":{"x":{"field":"x","type":"quantitative"},"y":{"field":"y","type":"quantitative"}}},
{"data":{"name":"xt"},"mark":{"type":"text","baseline":"top","dy":5},"encoding":{"x":{"field":"x","type":"quantitative"},"y":{"datum":0.5},"text":{"field":"t"}}},
{"data":{"name":"yt"},"transform":[{"filter":"datum.g=='SR'"}],"mark":{"type":"text","align":"right","dx":-5},"encoding":{"x":{"datum":0},"y":{"field":"y","type":"quantitative"},"text":{"field":"t"}}}]}
]
}
